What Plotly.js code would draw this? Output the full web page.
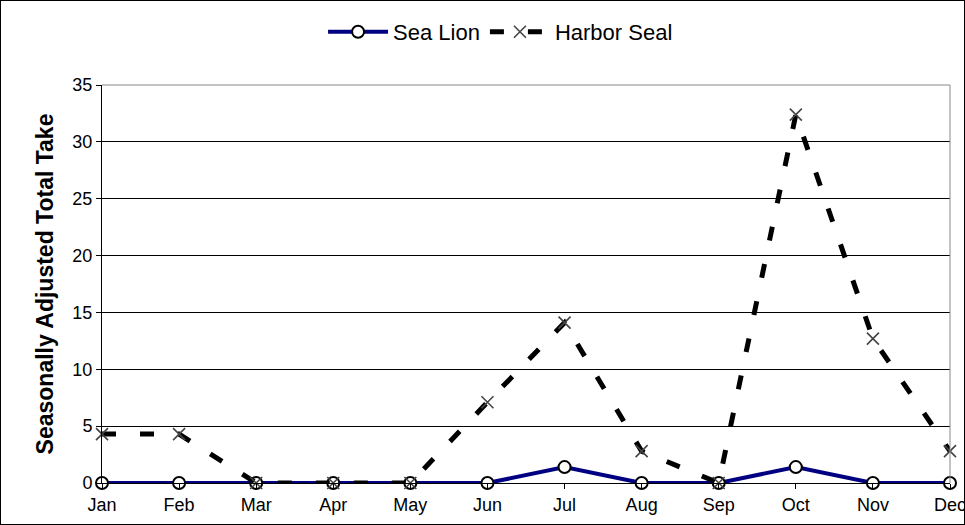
<!DOCTYPE html>
<html><head><meta charset="utf-8">
<script src="https://cdn.plot.ly/plotly-3.0.1.min.js"></script>
<style>
html,body{margin:0;padding:0;background:#fff;}
#wrap{width:963px;height:523px;border:1px solid #000;}
#chart{width:963px;height:523px;}
</style></head><body>
<div id="wrap"><div id="chart"></div></div>
<script>
const months = ["Jan","Feb","Mar","Apr","May","Jun","Jul","Aug","Sep","Oct","Nov","Dec"];
const seaLion = [0,0,0,0,0,0,1.4,0,0,1.4,0,0];
const harborSeal = [4.3,4.3,0,0,0,7.1,14.1,2.8,0,32.4,12.7,2.8];
const yTicks = [0,5,10,15,20,25,30,35];

const traces = [
  {x: months, y: seaLion, name: "Sea Lion", type: "scatter", mode: "lines+markers",
   cliponaxis: false,
   line: {color: "#000080", width: 4},
   marker: {symbol: "circle", size: 12, color: "#fff", line: {color: "#000", width: 2}}},
  {x: months, y: harborSeal, name: "Harbor Seal", type: "scatter", mode: "lines+markers",
   cliponaxis: false,
   line: {color: "#000", width: 5, dash: "14px,24px"},
   marker: {symbol: "x-thin-open", size: 12, color: "#444", line: {color: "#444", width: 1.6}}}
];

const layout = {
  width: 963, height: 523,
  margin: {l: 101, r: 14, t: 84, b: 41},
  paper_bgcolor: "#fff", plot_bgcolor: "#fff",
  font: {family: "Liberation Sans, Arial, sans-serif", color: "#000", size: 18},
  showlegend: true,
  legend: {orientation: "h", x: 0.47, xanchor: "center", xref: "paper",
           yref: "container", y: 1 - 31/523, yanchor: "middle",
           itemwidth: 60, font: {size: 22}},
  xaxis: {type: "category", categoryorder: "array", categoryarray: months,
          range: [0, 11], showline: true, linecolor: "#000", linewidth: 1,
          ticks: "outside", ticklen: 5, tickcolor: "#000", showgrid: false,
          zeroline: false, tickfont: {size: 18}, fixedrange: true},
  yaxis: {range: [0, 35], tickvals: yTicks, ticktext: yTicks.map(String),
          showline: true, linecolor: "#000", linewidth: 1,
          ticks: "outside", ticklen: 5, tickcolor: "#000",
          showgrid: true, gridcolor: "#000", gridwidth: 1, zeroline: false,
          tickfont: {size: 18},
          title: {text: "<b>Seasonally Adjusted Total Take</b>", font: {size: 23}, standoff: 12}},
  shapes: [
    {type: "line", xref: "paper", yref: "paper", x0: 0, x1: 1, y0: 1, y1: 1, line: {color: "#888", width: 1}},
    {type: "line", xref: "paper", yref: "paper", x0: 1, x1: 1, y0: 0, y1: 1, line: {color: "#888", width: 1}}
  ]
};
Plotly.newPlot("chart", traces, layout, {displayModeBar: false, staticPlot: true});
</script>
</body></html>
